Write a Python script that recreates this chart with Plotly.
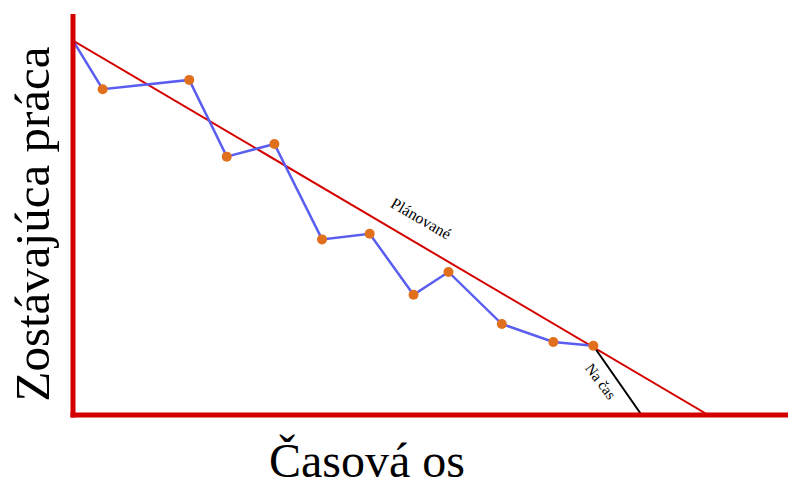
import plotly.graph_objects as go

# Data (time units along x, remaining work along y)
planned_x = [0, 100]
planned_y = [100, 0]

actual_x = [0, 4.67, 18.3, 24.2, 31.7, 39.2, 46.7, 53.6, 59.1, 67.5, 75.6, 81.9]
actual_y = [100, 87.0, 89.5, 69.0, 72.4, 46.9, 48.4, 32.1, 38.2, 24.3, 19.5, 18.5]

ontime_x = [81.9, 89.5]
ontime_y = [18.5, 0]

x_title = "Časová os"
y_title = "Zostávajúca práca"
planned_label = "Plánované"
ontime_label = "Na čas"

SERIF = "Liberation Serif"
RED = "#d40000"

fig = go.Figure()
fig.add_trace(go.Scatter(x=planned_x, y=planned_y, mode="lines",
                         line=dict(color=RED, width=2), hoverinfo="skip"))
fig.add_trace(go.Scatter(x=ontime_x, y=ontime_y, mode="lines",
                         line=dict(color="black", width=2), hoverinfo="skip"))
fig.add_trace(go.Scatter(x=actual_x, y=actual_y, mode="lines",
                         line=dict(color="#5a5ef0", width=2.5), hoverinfo="skip"))
fig.add_trace(go.Scatter(x=actual_x[1:], y=actual_y[1:], mode="markers",
                         marker=dict(color="#e0701e", size=10), hoverinfo="skip"))

# Thick red axes
fig.add_shape(type="line", xref="paper", yref="paper", x0=0, x1=0, y0=-0.0062, y1=1,
              line=dict(color=RED, width=5), layer="above")
fig.add_shape(type="line", xref="paper", yref="paper", x0=-0.0035, x1=1, y0=0, y1=0,
              line=dict(color=RED, width=5), layer="above")

fig.add_annotation(text=planned_label, x=54.8, y=52.6, xref="x", yref="y",
                   showarrow=False, textangle=30,
                   font=dict(family=SERIF, size=16, color="black"))
fig.add_annotation(text=ontime_label, x=83.1, y=8.8, xref="x", yref="y",
                   showarrow=False, textangle=53,
                   font=dict(family=SERIF, size=15, color="black"))

fig.add_annotation(text=x_title, x=0.4066, y=-0.1125, xref="paper", yref="paper",
                   showarrow=False, xanchor="center", yanchor="middle",
                   font=dict(family=SERIF, size=48, color="black"))
fig.add_annotation(text=y_title, x=-0.0553, y=0.475, xref="paper", yref="paper",
                   showarrow=False, xanchor="center", yanchor="middle", textangle=-90,
                   font=dict(family=SERIF, size=49, color="black"))

fig.update_xaxes(range=[0, 113.8], showgrid=False, zeroline=False,
                 showticklabels=False, showline=False, ticks="")
fig.update_yaxes(range=[0, 107.1], showgrid=False, zeroline=False,
                 showticklabels=False, showline=False, ticks="")
# page body has an 8px margin, so the figure is sized to fit the 796x480 window
fig.update_layout(width=788, height=472, showlegend=False,
                  margin=dict(l=65, r=0, t=6, b=65),
                  paper_bgcolor="white", plot_bgcolor="white",
                  font=dict(family=SERIF))

fig.write_html("out.html")
